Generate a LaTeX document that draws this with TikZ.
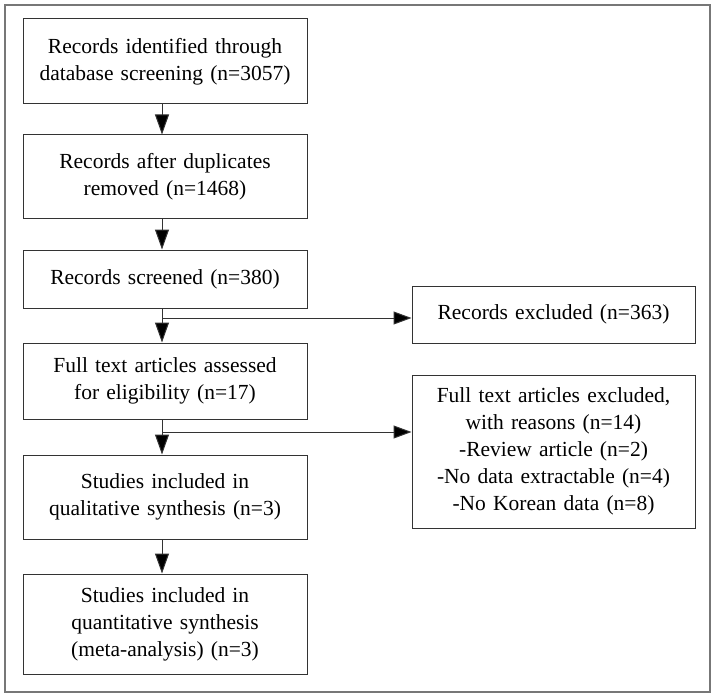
\documentclass[tikz,border=0pt]{standalone}
\usepackage{fontspec}
\setmainfont{Liberation Serif}
\usetikzlibrary{arrows.meta,calc}
\definecolor{linegray}{HTML}{333333}
\definecolor{framegray}{HTML}{777777}
\begin{document}
\begin{tikzpicture}[x=1pt,y=1pt,
  box/.style={draw=linegray, line width=1pt, align=center, text width=280pt,
    minimum width=284pt, inner sep=0pt,
    font=\fontsize{21.5}{27}\selectfont, text=black},
  arr/.style={draw=linegray, line width=1pt, -{Triangle[length=20pt,width=14pt,fill=black]}},
  harr/.style={draw=linegray, line width=1pt, -{Triangle[length=18pt,width=13pt,fill=black]}}]
\useasboundingbox (0,0) rectangle (717,-698);
\draw[framegray, line width=1.2pt] (5,-5) rectangle (710,-692);
\node[box, minimum height=85pt] (b1) at (165,-61.5) {Records identified through\\database screening (n=3057)};
\node[box, minimum height=83pt] (b2) at (165,-176.5) {Records after duplicates\\removed (n=1468)};
\node[box, minimum height=58pt] (b3) at (165,-279) {Records screened (n=380)};
\node[box, minimum height=76pt] (b4) at (165,-381) {Full text articles assessed\\for eligibility (n=17)};
\node[box, minimum height=84pt] (b5) at (165,-497) {Studies included in\\qualitative synthesis (n=3)};
\node[box, minimum height=100pt] (b6) at (165,-624) {Studies included in\\quantitative synthesis\\(meta-analysis) (n=3)};
\node[box, minimum width=283pt, minimum height=57pt] (e1) at (553.5,-314.5) {Records excluded (n=363)};
\node[box, minimum width=283pt, minimum height=153pt] (e2) at (553.5,-451.5) {Full text articles excluded,\\with reasons (n=14)\\-Review article (n=2)\\-No data extractable (n=4)\\-No Korean data (n=8)};
\draw[arr] ($(b1.south)+(-3,0)$) -- ($(b2.north)+(-3,0)$);
\draw[arr] ($(b2.south)+(-3,0)$) -- ($(b3.north)+(-3,0)$);
\draw[arr] ($(b3.south)+(-3,0)$) -- ($(b4.north)+(-3,0)$);
\draw[arr] ($(b4.south)+(-3,0)$) -- ($(b5.north)+(-3,0)$);
\draw[arr] ($(b5.south)+(-3,0)$) -- ($(b6.north)+(-3,0)$);
\coordinate (j1) at (162,-318);
\coordinate (j2) at (162,-432);
\draw[harr] (j1) -- (j1 -| e1.west);
\draw[harr] (j2) -- (j2 -| e2.west);
\end{tikzpicture}
\end{document}
